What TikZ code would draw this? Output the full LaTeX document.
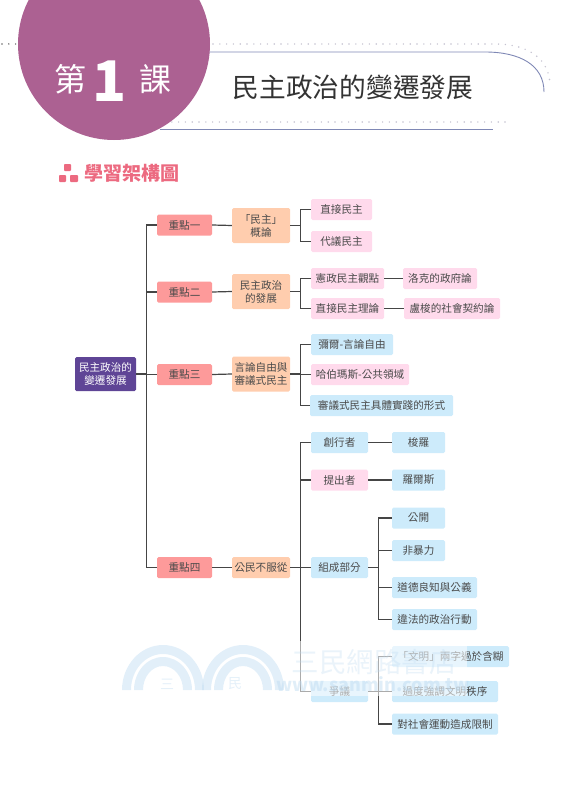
\documentclass[tikz,border=0pt]{standalone}
\usepackage{fontspec}
\setmainfont{Noto Sans CJK TC}
\definecolor{txtgray}{HTML}{4A4A4A}
\definecolor{txtdark}{HTML}{333333}
\definecolor{rootpurple}{HTML}{5F4596}
\definecolor{keyred}{HTML}{FD9A9A}
\definecolor{topicorange}{HTML}{FFCDAE}
\definecolor{itempink}{HTML}{FFDAEC}
\definecolor{itemblue}{HTML}{CDEBFB}
\definecolor{linegray}{HTML}{454545}
\definecolor{dotgray}{HTML}{C4C2D0}
\definecolor{headblue}{HTML}{7F88B5}
\definecolor{headpink}{HTML}{EC6A80}
\definecolor{circlepurple}{HTML}{AC6192}
\definecolor{markblue}{HTML}{BBD9F0}
\begin{document}
\begin{tikzpicture}[x=1pt, y=-1pt, every node/.style={inner sep=0pt, align=center, font=\fontsize{10.6}{13}\selectfont, text=txtgray},
		box/.style={fill=#1, rounded corners=1.5pt, minimum height=21pt},
		rootbox/.style={box=rootpurple, minimum width=61pt, minimum height=34pt, text=white},
		keybox/.style={box=keyred, minimum width=55pt},
		topicbox/.style={box=topicorange, minimum width=58pt},
		pinkbox/.style={box=itempink},
		bluebox/.style={box=itemblue},
		conn/.style={draw=linegray, line width=1.2pt},
		dotline/.style={draw=dotgray, line width=1.6pt, line cap=round, dash pattern=on 0pt off 6.8pt},
		headline/.style={draw=headblue, line width=0.9pt},
		sq/.style={fill=headpink, rounded corners=0.8pt}]
	\clip (0,0) rectangle (584,800);

	% 1. 頁首裝飾線
	\draw[dotline, draw=linegray!80] (2,44) -- (18,44);
	\draw[dotline] (213,44) -- (495,44) .. controls (530,44) and (550,60) .. (550,86);
	\draw[headline] (205,52) -- (485,52) .. controls (520,52) and (544,65) .. (544,92);
	\draw[dotline] (165,122) -- (510,122);
	\draw[headline] (160,129) -- (493,129);

	% 2. 圓形課名與標題
	\fill[circlepurple] (114,44) circle (96);
	\node[text=white, font=\fontsize{32}{32}\selectfont] (lessonA) at (70,79) {第};
	\node[text=white, font=\fontsize{56}{56}\selectfont\bfseries] (lessonNum) at (110,81) {1};
	\node[text=white, font=\fontsize{32}{32}\selectfont] (lessonB) at (155,79) {課};
	\node[text=txtdark, font=\fontsize{26.7}{30}\selectfont] (title) at (353,87) {民主政治的變遷發展};

	% 3. 小標
	\fill[sq] (64,164) rectangle (71,171);
	\fill[sq] (59,175) rectangle (66,182);
	\fill[sq] (70,175) rectangle (78,182);
	\node[text=headpink, font=\fontsize{19}{19}\selectfont\bfseries] (heading) at (132,173) {學習架構圖};

	% 4. 各層節點
	\node[rootbox] (root) at (105.5,374) {民主政治的\\變遷發展};

	\node[keybox] (key1) at (184.5,225) {重點一};
	\node[keybox] (key2) at (184.5,292) {重點二};
	\node[keybox] (key3) at (184.5,374.5) {重點三};
	\node[keybox] (key4) at (184.5,567.5) {重點四};

	\node[topicbox, minimum height=35pt] (topic1) at (261,225.5) {「民主」\\概論};
	\node[topicbox, minimum height=35pt] (topic2) at (261,291.5) {民主政治\\的發展};
	\node[topicbox, minimum height=35pt] (topic3) at (261,374) {言論自由與\\審議式民主};
	\node[topicbox] (topic4) at (261,567.5) {公民不服從};

	% 重點一、二
	\node[pinkbox, minimum width=61pt] (direct) at (341.5,209.5) {直接民主};
	\node[pinkbox, minimum width=61pt] (deputy) at (341.5,241.5) {代議民主};
	\node[pinkbox, minimum width=73pt] (consti) at (347.5,278.5) {憲政民主觀點};
	\node[pinkbox, minimum width=73pt] (theory) at (347.5,308.5) {直接民主理論};
	\node[pinkbox, minimum width=74pt] (locke) at (440,278.5) {洛克的政府論};
	\node[pinkbox, minimum width=96pt] (rousseau) at (452,308.5) {盧梭的社會契約論};

	% 重點三
	\node[bluebox, minimum width=82pt] (mill) at (352,344.5) {彌爾-言論自由};
	\node[pinkbox, minimum width=98pt] (habermas) at (360,374.5) {哈伯瑪斯-公共領域};
	\node[bluebox, minimum width=143pt] (practice) at (381.5,405.5) {審議式民主具體實踐的形式};

	% 重點四
	\node[bluebox, minimum width=57pt] (founder) at (339.5,442.5) {創行者};
	\node[pinkbox, minimum width=57pt] (proposer) at (339.5,480) {提出者};
	\node[bluebox, minimum width=57pt] (parts) at (339.5,567.5) {組成部分};
	\node[bluebox, minimum width=57pt] (dispute) at (339.5,691.5) {爭議};
	\node[bluebox, minimum width=53pt] (thoreau) at (418.5,442.5) {梭羅};
	\node[bluebox, minimum width=53pt] (rawls) at (418.5,480) {羅爾斯};
	\node[bluebox, minimum width=53pt] (open) at (418.5,518) {公開};
	\node[bluebox, minimum width=53pt] (peace) at (418.5,550.5) {非暴力};
	\node[bluebox, minimum width=85pt] (moral) at (434.5,587.5) {道德良知與公義};
	\node[bluebox, minimum width=85pt] (illegal) at (434.5,619.5) {違法的政治行動};
	\node[bluebox, minimum width=117pt] (vague) at (450.5,656.5) {「文明」兩字過於含糊};
	\node[bluebox, minimum width=106pt] (order) at (445,691.5) {過度強調文明秩序};
	\node[bluebox, minimum width=106pt] (limit) at (445,724) {對社會運動造成限制};

	% 5. 連接線
	\foreach \a/\b in {root/key1, root/key2, root/key3, root/key4}
		\draw[conn] (\a.east) -- ++(10.5,0) |- (\b.west);
	\foreach \a/\b in {key1/topic1, key2/topic2, key3/topic3, key4/topic4, consti/locke, theory/rousseau, founder/thoreau, proposer/rawls}
		\draw[conn] (\a.east) -- (\b.west);
	\foreach \a/\b in {topic1/direct, topic1/deputy, topic2/consti, topic2/theory, topic3/mill, topic3/habermas, topic3/practice, topic4/founder, topic4/proposer, topic4/parts, topic4/dispute}
		\draw[conn] (\a.east) -- ++(10,0) |- (\b.west);
	\foreach \a/\b in {parts/open, parts/peace, parts/moral, parts/illegal, dispute/vague, dispute/order, dispute/limit}
		\draw[conn] (\a.east) -- ++(10.5,0) |- (\b.west);

	% 6. 浮水印
	\fill[white, opacity=0.55] (300,641) rectangle (467,696);
	\foreach \cx in {163,243} {
		\fill[markblue, opacity=0.42] (\cx-41,690) arc[start angle=180, end angle=0, x radius=41pt, y radius=45pt] -- ++(-9,0) arc[start angle=0, end angle=180, x radius=32pt, y radius=36pt] -- cycle;
		\fill[markblue, opacity=0.42] (\cx-29,690) arc[start angle=180, end angle=0, x radius=29pt, y radius=33pt] -- ++(-9,0) arc[start angle=0, end angle=180, x radius=20pt, y radius=24pt] -- cycle;
	}
	\node[text=markblue, opacity=0.4, font=\fontsize{14}{14}\selectfont] (markA) at (167,684) {三};
	\node[text=markblue, opacity=0.4, font=\fontsize{14}{14}\selectfont] (markB) at (235,684) {民};
	\node[text=markblue, opacity=0.3, font=\fontsize{27.5}{27.5}\selectfont] (markName) at (374,662) {三民網路書店};
	\node[text=markblue, opacity=0.45, font=\fontsize{18}{18}\selectfont\bfseries] (markUrl) at (373,684) {www.sanmin.com.tw};
\end{tikzpicture}
\end{document}
